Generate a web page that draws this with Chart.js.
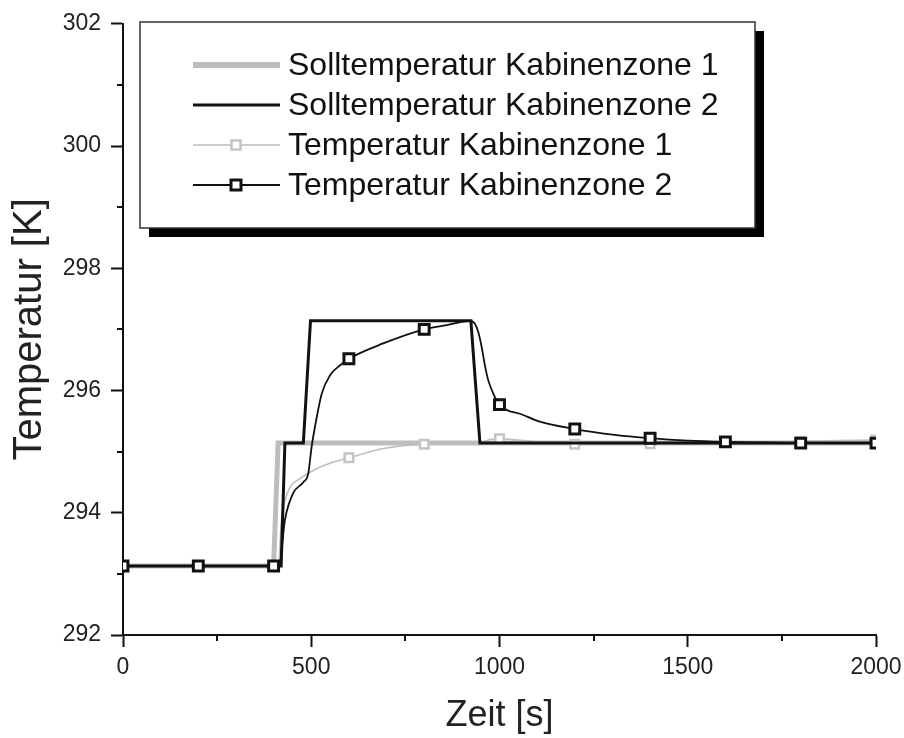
<!DOCTYPE html>
<html>
<head>
<meta charset="utf-8">
<script src="https://cdn.jsdelivr.net/npm/chart.js@4.4.0/dist/chart.umd.min.js"></script>
<style>
  html, body { margin: 0; padding: 0; background: #fff; }
</style>
</head>
<body>
<canvas id="grafik" width="904" height="738"></canvas>
<script>
// --- Daten ---
const soll1Zeit = [0, 400, 412, 2000];
const soll1Temp = [293.13, 293.13, 295.14, 295.14];

const soll2Zeit = [0, 420, 430, 479, 498, 924, 948, 2000];
const soll2Temp = [293.13, 293.13, 295.14, 295.14, 297.14, 297.14, 295.14, 295.14];

const temp1Zeit = [0, 200, 400, 413, 421, 430, 444, 470, 514, 559, 600, 691, 800, 886, 948, 975, 1000, 1046, 1100, 1200, 1300, 1400, 1600, 1800, 2000];
const temp1Werte = [293.13, 293.13, 293.13, 293.17, 293.88, 294.2, 294.42, 294.56, 294.72, 294.83, 294.9, 295.05, 295.12, 295.13, 295.14, 295.2, 295.21, 295.19, 295.16, 295.12, 295.12, 295.13, 295.15, 295.17, 295.19];

const temp2Zeit = [0, 200, 400, 415, 430, 452, 479, 492, 501, 513, 528, 550, 576, 600, 691, 800, 860, 922, 935, 944, 953, 961, 970, 985, 1000, 1063, 1107, 1200, 1300, 1400, 1500, 1600, 1700, 1800, 1900, 2000];
const temp2Werte = [293.13, 293.13, 293.13, 293.14, 293.88, 294.32, 294.5, 294.64, 295.08, 295.51, 295.95, 296.25, 296.41, 296.52, 296.77, 297.0, 297.07, 297.14, 297.09, 296.95, 296.7, 296.42, 296.17, 295.93, 295.77, 295.6, 295.49, 295.37, 295.28, 295.22, 295.18, 295.16, 295.15, 295.14, 295.14, 295.14];

const markerAbstand = 200; // Symbole alle 200 s
const xTicks = [0, 500, 1000, 1500, 2000];
const yTicks = [292, 294, 296, 298, 300, 302];
const xMinor = [250, 750, 1250, 1750];
const yMinor = [293, 295, 297, 299, 301];

const schrift = '"Liberation Sans", Arial, sans-serif';
const grau = '#bdbdbd';
const schwarz = '#111';

const punkte = (zeit, werte) => zeit.map((t, i) => ({ x: t, y: werte[i] }));
const markerRadius = r => c => (c.raw && c.raw.x % markerAbstand === 0 ? r : 0);

// --- Nebenteilstriche ---
const nebenStriche = {
    id: 'nebenStriche',
    afterDraw(chart) {
        const { ctx, scales: { x, y }, chartArea } = chart;
        ctx.save();
        ctx.strokeStyle = schwarz;
        ctx.lineWidth = 2;
        ctx.beginPath();
        yMinor.forEach(v => {
            const py = Math.round(y.getPixelForValue(v));
            ctx.moveTo(chartArea.left - 6, py);
            ctx.lineTo(chartArea.left, py);
        });
        xMinor.forEach(v => {
            const px = Math.round(x.getPixelForValue(v));
            ctx.moveTo(px, chartArea.bottom);
            ctx.lineTo(px, chartArea.bottom + 6);
        });
        ctx.stroke();
        ctx.restore();
    }
};

// --- Legende mit Schatten ---
const legendeBox = {
    id: 'legendeBox',
    afterDraw(chart) {
        const ctx = chart.ctx;
        const bx = 140, by = 22, bw = 615, bh = 206;
        ctx.save();
        ctx.fillStyle = '#000';
        ctx.fillRect(bx + 9, by + 9, bw, bh);
        ctx.fillStyle = '#fff';
        ctx.fillRect(bx, by, bw, bh);
        ctx.strokeStyle = '#333';
        ctx.lineWidth = 1.5;
        ctx.strokeRect(bx, by, bw, bh);

        chart.data.datasets.forEach((ds, i) => {
            const yy = 65 + i * 40;
            ctx.strokeStyle = ds.borderColor;
            ctx.lineWidth = ds.legendLinie;
            ctx.beginPath();
            ctx.moveTo(193, yy);
            ctx.lineTo(280, yy);
            ctx.stroke();
            if (ds.legendMarker) {
                const s = ds.legendMarker;
                ctx.fillStyle = '#fff';
                ctx.lineWidth = ds.pointBorderWidth;
                ctx.strokeStyle = ds.pointBorderColor;
                ctx.fillRect(236 - s / 2, yy - s / 2, s, s);
                ctx.strokeRect(236 - s / 2, yy - s / 2, s, s);
            }
            ctx.fillStyle = schwarz;
            ctx.font = '32px ' + schrift;
            ctx.textBaseline = 'middle';
            ctx.textAlign = 'left';
            ctx.fillText(ds.label, 288, yy + 1);
        });
        ctx.restore();
    }
};

new Chart(document.getElementById('grafik'), {
    type: 'line',
    data: {
        datasets: [
            {
                label: 'Solltemperatur Kabinenzone 1',
                data: punkte(soll1Zeit, soll1Temp),
                borderColor: grau, borderWidth: 5, pointRadius: 0,
                tension: 0, order: 4, legendLinie: 6
            },
            {
                label: 'Solltemperatur Kabinenzone 2',
                data: punkte(soll2Zeit, soll2Temp),
                borderColor: schwarz, borderWidth: 3, pointRadius: 0,
                tension: 0, order: 2, legendLinie: 3
            },
            {
                label: 'Temperatur Kabinenzone 1',
                data: punkte(temp1Zeit, temp1Werte),
                borderColor: grau, borderWidth: 1.6,
                cubicInterpolationMode: 'monotone',
                pointStyle: 'rect', pointRadius: markerRadius(6),
                pointBackgroundColor: '#fff', pointBorderColor: '#c4c4c4', pointBorderWidth: 2.5,
                order: 3, legendLinie: 1.6, legendMarker: 9
            },
            {
                label: 'Temperatur Kabinenzone 2',
                data: punkte(temp2Zeit, temp2Werte),
                borderColor: schwarz, borderWidth: 1.8,
                cubicInterpolationMode: 'monotone',
                pointStyle: 'rect', pointRadius: markerRadius(7),
                pointBackgroundColor: '#fff', pointBorderColor: schwarz, pointBorderWidth: 3,
                order: 1, legendLinie: 1.8, legendMarker: 10
            }
        ]
    },
    options: {
        responsive: false,
        animation: false,
        events: [],
        layout: { padding: { left: 0, top: 23, right: 28, bottom: 0 } },
        plugins: { legend: { display: false }, tooltip: { enabled: false } },
        scales: {
            x: {
                type: 'linear', min: 0, max: 2000,
                afterBuildTicks: s => { s.ticks = xTicks.map(v => ({ value: v })); },
                afterFit: s => { s.height = 103; s.paddingRight = 0; s.paddingLeft = 0; },
                ticks: { font: { family: schrift, size: 23 }, color: '#222', padding: 7, maxRotation: 0, callback: v => String(v) },
                grid: { drawOnChartArea: false, tickLength: 12, tickWidth: 2, color: schwarz },
                border: { color: schwarz, width: 2 },
                title: { display: true, text: 'Zeit [s]', color: '#222', font: { family: schrift, size: 36 }, padding: { top: 0, bottom: 0 } }
            },
            y: {
                type: 'linear', min: 292, max: 302,
                afterBuildTicks: s => { s.ticks = yTicks.map(v => ({ value: v })); },
                afterFit: s => { s.width = 123; },
                ticks: { font: { family: schrift, size: 23 }, color: '#222', padding: 10, callback: v => String(v) },
                grid: { drawOnChartArea: false, tickLength: 12, tickWidth: 2, color: schwarz },
                border: { color: schwarz, width: 2 },
                title: { display: true, text: 'Temperatur [K]', color: '#222', font: { family: schrift, size: 40 }, padding: { top: 6, bottom: 0 } }
            }
        }
    },
    plugins: [nebenStriche, legendeBox]
});
</script>
</body>
</html>
